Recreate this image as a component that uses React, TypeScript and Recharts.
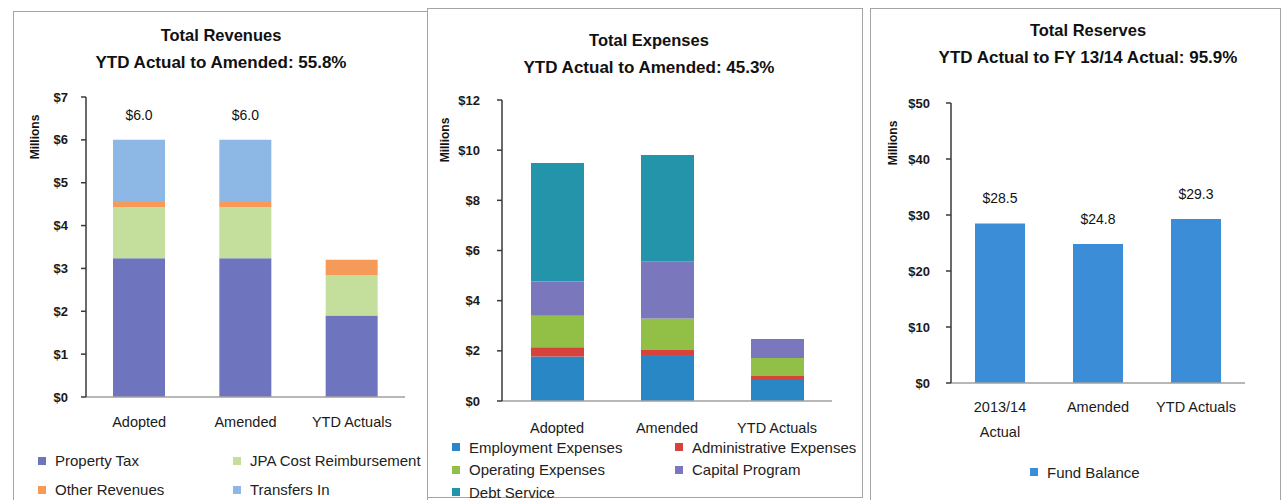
import React from 'react';
import { Bar, BarChart, LabelList, XAxis, YAxis } from 'recharts';

const FONT = '"Liberation Sans", Arial, sans-serif';

// Revenues, $ millions
const revenueCategories = ['Adopted', 'Amended', 'YTD Actuals'];
const propertyTax = [3.24, 3.24, 1.9];
const jpaReimbursement = [1.19, 1.19, 0.94];
const otherRevenues = [0.12, 0.12, 0.36];
const transfersIn = [1.45, 1.45, 0];
const revenueTicks = [0, 1, 2, 3, 4, 5, 6, 7];

// Expenses, $ millions
const expenseCategories = ['Adopted', 'Amended', 'YTD Actuals'];
const employmentExpenses = [1.77, 1.83, 0.84];
const administrativeExpenses = [0.37, 0.2, 0.16];
const operatingExpenses = [1.26, 1.26, 0.71];
const capitalProgram = [1.36, 2.28, 0.76];
const debtService = [4.73, 4.24, 0];
const expenseTicks = [0, 2, 4, 6, 8, 10, 12];

// Reserves, $ millions
const reserveCategories = ['2013/14\nActual', 'Amended', 'YTD Actuals'];
const fundBalance = [28.5, 24.8, 29.3];
const reserveTicks = [0, 10, 20, 30, 40, 50];

type Series = { key: string; name: string; values: number[]; color: string };

const revenueSeries: Series[] = [
  { key: 'propertyTax', name: 'Property Tax', values: propertyTax, color: '#6f74bf' },
  { key: 'jpa', name: 'JPA Cost Reimbursement', values: jpaReimbursement, color: '#c4df9b' },
  { key: 'other', name: 'Other Revenues', values: otherRevenues, color: '#f59a58' },
  { key: 'transfers', name: 'Transfers In', values: transfersIn, color: '#8db7e4' },
];

const expenseSeries: Series[] = [
  { key: 'employment', name: 'Employment Expenses', values: employmentExpenses, color: '#2a87c6' },
  { key: 'admin', name: 'Administrative Expenses', values: administrativeExpenses, color: '#d8423c' },
  { key: 'operating', name: 'Operating Expenses', values: operatingExpenses, color: '#92c046' },
  { key: 'capital', name: 'Capital Program', values: capitalProgram, color: '#7a77bd' },
  { key: 'debt', name: 'Debt Service', values: debtService, color: '#2494ab' },
];

const reserveSeries: Series[] = [
  { key: 'balance', name: 'Fund Balance', values: fundBalance, color: '#3b8dd7' },
];

function buildRows(categories: string[], series: Series[]) {
  return categories.map((name, i) => {
    const row: Record<string, any> = { name };
    let total = 0;
    series.forEach((s) => {
      row[s.key] = s.values[i];
      total += s.values[i];
    });
    row.total = Math.round(total * 10) / 10;
    return row;
  });
}

// category labels may carry a line break
function CategoryTick({ x, y, payload }: any) {
  const lines = String(payload.value).split('\n');
  return (
    <text x={x} y={y} textAnchor="middle" fontFamily={FONT} fontSize={14.5} fill="#1a1a1a">
      {lines.map((line, i) => (
        <tspan key={i} x={x} dy={i === 0 ? '0.35em' : 25}>
          {line}
        </tspan>
      ))}
    </text>
  );
}

interface PanelProps {
  frame: { left: number; top: number; width: number; height: number };
  title: string;
  subtitle: string;
  titleY: number;
  centerX: number;
  chart: { left: number; top: number; width: number; height: number; marginTop: number; yWidth: number; yGap: number; xGap: number; xHeight: number; barSize: number };
  categories: string[];
  series: Series[];
  ticks: number[];
  showTotals: boolean;
  millions: { x: number; y: number };
  legend: { left: number; top: number; columns: number; colWidth: number; rowHeight: number };
}

function Panel({ frame, title, subtitle, titleY, centerX, chart, categories, series, ticks, showTotals, millions, legend }: PanelProps) {
  const rows = buildRows(categories, series);
  const last = series.length - 1;
  return (
    <>
      <div
        style={{
          position: 'absolute',
          left: frame.left,
          top: frame.top,
          width: frame.width,
          height: frame.height,
          border: '1.5px solid #a4a4a4',
          boxSizing: 'border-box',
        }}
      />
      <div style={{ position: 'absolute', left: centerX - 220, width: 440, top: titleY - 10, textAlign: 'center', fontFamily: FONT, fontWeight: 700, fontSize: 16.5, color: '#111', lineHeight: '20px' }}>
        {title}
      </div>
      <div style={{ position: 'absolute', left: centerX - 220, width: 440, top: titleY + 18, textAlign: 'center', fontFamily: FONT, fontWeight: 700, fontSize: 17, color: '#111', lineHeight: '20px' }}>
        {subtitle}
      </div>
      <div
        style={{
          position: 'absolute',
          left: millions.x - 40,
          top: millions.y - 8,
          width: 80,
          textAlign: 'center',
          transform: 'rotate(-90deg)',
          fontFamily: FONT,
          fontWeight: 700,
          fontSize: 12,
          color: '#111',
          lineHeight: '16px',
        }}
      >
        Millions
      </div>
      <div style={{ position: 'absolute', left: chart.left, top: chart.top }}>
        <BarChart
          width={chart.width}
          height={chart.height}
          data={rows}
          margin={{ top: chart.marginTop, right: 10, bottom: 0, left: 0 }}
          barSize={chart.barSize}
        >
          <XAxis
            dataKey="name"
            interval={0}
            height={chart.xHeight}
            tickLine={false}
            tickSize={0}
            tickMargin={chart.xGap}
            axisLine={{ stroke: '#a0a0a0', strokeWidth: 1.5 }}
            tick={<CategoryTick />}
          />
          <YAxis
            width={chart.yWidth}
            domain={[ticks[0], ticks[ticks.length - 1]]}
            ticks={ticks}
            interval={0}
            tickSize={5}
            tickMargin={chart.yGap}
            axisLine={{ stroke: '#3a3a3a', strokeWidth: 1.5 }}
            tickLine={{ stroke: '#3a3a3a', strokeWidth: 1.5 }}
            tick={{ fontFamily: FONT, fontSize: 13, fontWeight: 700, fill: '#1a1a1a' }}
            tickFormatter={(v) => `$${v}`}
          />
          {series.map((s, i) => (
            <Bar key={s.key} dataKey={s.key} name={s.name} stackId="a" fill={s.color} isAnimationActive={false}>
              {showTotals && i === last ? (
                <LabelList
                  dataKey="total"
                  position="top"
                  offset={20}
                  formatter={(v: any) => `$${Number(v).toFixed(1)}`}
                  style={{ fontFamily: FONT, fontSize: 14, fill: '#111' }}
                />
              ) : null}
            </Bar>
          ))}
        </BarChart>
      </div>
      <div
        style={{
          position: 'absolute',
          left: legend.left,
          top: legend.top,
          display: 'grid',
          gridTemplateColumns: `repeat(${legend.columns}, ${legend.colWidth}px)`,
          gridAutoRows: legend.rowHeight,
          fontFamily: FONT,
          fontSize: 15,
          color: '#222',
        }}
      >
        {series.map((s) => (
          <div key={s.key} style={{ display: 'flex', alignItems: 'center', whiteSpace: 'nowrap' }}>
            <span style={{ width: 8, height: 8, background: s.color, marginRight: 9, flex: 'none' }} />
            {s.name}
          </div>
        ))}
      </div>
    </>
  );
}

export default function App() {
  return (
    <div style={{ position: 'absolute', left: 0, top: 0, width: 1283, height: 500, overflow: 'hidden', background: '#fff' }}>
      <Panel
        frame={{ left: 13, top: 11, width: 415, height: 520 }}
        title="Total Revenues"
        subtitle="YTD Actual to Amended: 55.8%"
        titleY={35}
        centerX={221}
        chart={{ left: 30, top: 80, width: 385, height: 357, marginTop: 17, yWidth: 56, yGap: 13, xGap: 25, xHeight: 40, barSize: 52 }}
        categories={revenueCategories}
        series={revenueSeries}
        ticks={revenueTicks}
        showTotals
        millions={{ x: 35, y: 137 }}
        legend={{ left: 38, top: 446, columns: 2, colWidth: 195, rowHeight: 29 }}
      />
      <Panel
        frame={{ left: 427, top: 8, width: 436, height: 490 }}
        title="Total Expenses"
        subtitle="YTD Actual to Amended: 45.3%"
        titleY={40}
        centerX={649}
        chart={{ left: 440, top: 80, width: 402, height: 361, marginTop: 20, yWidth: 62, yGap: 17, xGap: 27, xHeight: 40, barSize: 53 }}
        categories={expenseCategories}
        series={expenseSeries}
        ticks={expenseTicks}
        showTotals={false}
        millions={{ x: 445, y: 140 }}
        legend={{ left: 452, top: 436, columns: 2, colWidth: 223, rowHeight: 22.5 }}
      />
      <Panel
        frame={{ left: 870, top: 8, width: 411, height: 520 }}
        title="Total Reserves"
        subtitle="YTD Actual to FY 13/14 Actual: 95.9%"
        titleY={30}
        centerX={1088}
        chart={{ left: 890, top: 80, width: 365, height: 363, marginTop: 23, yWidth: 61, yGap: 16, xGap: 24, xHeight: 60, barSize: 50 }}
        categories={reserveCategories}
        series={reserveSeries}
        ticks={reserveTicks}
        showTotals
        millions={{ x: 893, y: 143 }}
        legend={{ left: 1030, top: 461, columns: 1, colWidth: 120, rowHeight: 22 }}
      />
    </div>
  );
}
